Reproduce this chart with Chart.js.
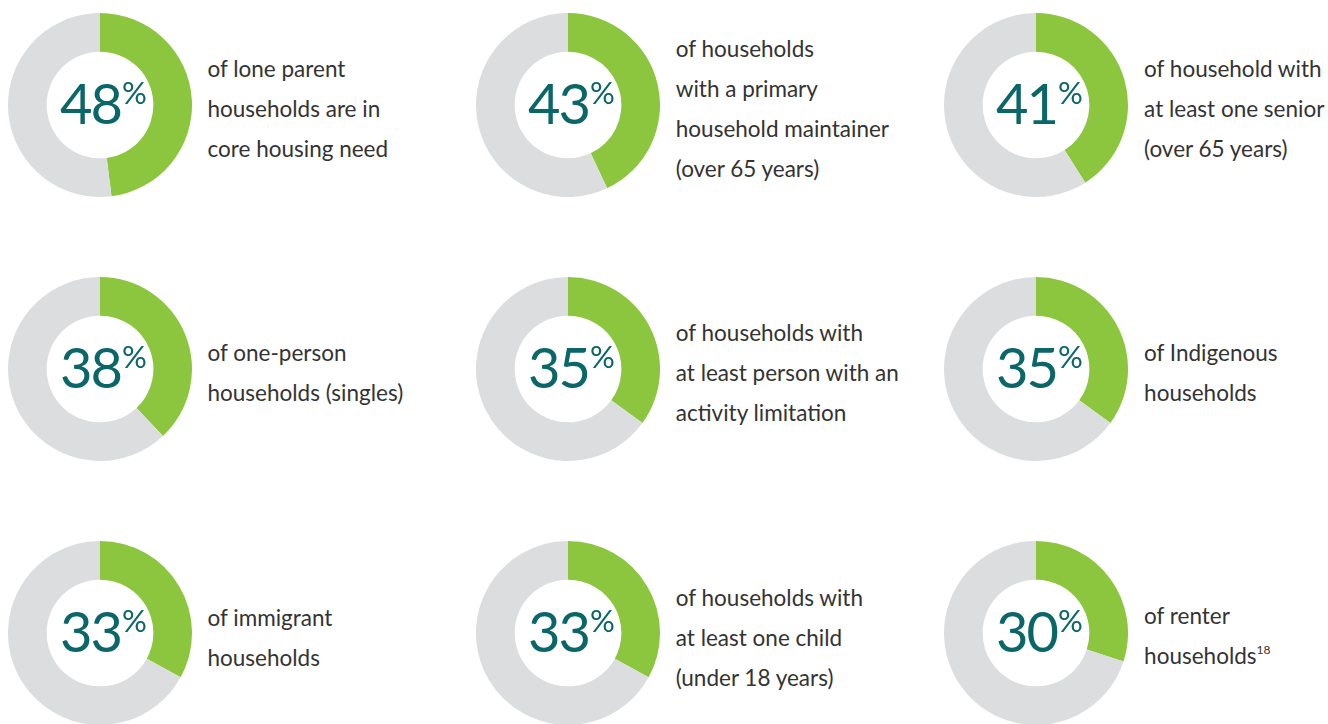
<!DOCTYPE html>
<html>
<head>
<meta charset="utf-8">
<script src="https://cdn.jsdelivr.net/npm/chart.js@4.4.1/dist/chart.umd.min.js"></script>
<style>
  html, body { margin: 0; padding: 0; background: #fff; }
  body { width: 1328px; height: 724px; position: relative; overflow: hidden; font-family: Lato, "Open Sans", sans-serif; }
  .cell { position: absolute; width: 460px; height: 184px; display: flex; align-items: center; }
  .cell canvas { flex: none; }
  .txt { margin-left: 16px; margin-top: 9px; font-size: 22.5px; line-height: 40px; color: #333; white-space: nowrap; }
  .txt sup { font-size: 12px; vertical-align: 0; position: relative; top: -10px; }
</style>
</head>
<body>
<script>
  const values = [48, 43, 41, 38, 35, 35, 33, 33, 30];
  const labelLines = [
    ["of lone parent", "households are in", "core housing need"],
    ["of households", "with a primary", "household maintainer", "(over 65 years)"],
    ["of household with", "at least one senior", "(over 65 years)"],
    ["of one-person", "households (singles)"],
    ["of households with", "at least person with an", "activity limitation"],
    ["of Indigenous", "households"],
    ["of immigrant", "households"],
    ["of households with", "at least one child", "(under 18 years)"],
    ["of renter", "households"]
  ];
  const footnotes = [null, null, null, null, null, null, null, null, "18"];

  const GREEN = "#8cc63f";
  const GREY = "#dcdddf";
  const TEAL = "#0a6669";

  // draws the big "NN%" in the hole of each ring
  const centerLabel = {
    id: "centerLabel",
    afterDraw(chart) {
      const arc = chart.getDatasetMeta(0).data[0];
      if (!arc) return;
      const { x, y } = arc;
      const ctx = chart.ctx;
      const num = String(chart.data.datasets[0].data[0]);
      const numFont = "400 56px Lato", pctFont = "400 31px Lato";
      ctx.save();
      ctx.fillStyle = TEAL;
      ctx.textBaseline = "alphabetic";
      ctx.textAlign = "left";
      ctx.font = numFont;
      ctx.letterSpacing = "-2px";
      const wNum = ctx.measureText(num).width;
      ctx.font = pctFont;
      ctx.letterSpacing = "0px";
      const wPct = ctx.measureText("%").width;
      const left = x - (wNum + wPct) / 2 + 3;
      ctx.font = numFont;
      ctx.letterSpacing = "-2px";
      ctx.fillText(num, left, y + 19);
      ctx.font = pctFont;
      ctx.letterSpacing = "0px";
      ctx.fillText("%", left + wNum + 1, y - 1);
      ctx.restore();
    }
  };

  values.forEach((v, i) => {
    const col = i % 3, row = Math.floor(i / 3);
    const cell = document.createElement("div");
    cell.className = "cell";
    cell.style.left = (7.5 + col * 468.3) + "px";
    cell.style.top = (12.5 + row * 264.3) + "px";
    const cv = document.createElement("canvas");
    cv.width = 184; cv.height = 184;
    cv.style.width = "184px"; cv.style.height = "184px";
    cell.appendChild(cv);
    const txt = document.createElement("div");
    txt.className = "txt";
    txt.innerHTML = labelLines[i].join("<br>") + (footnotes[i] ? "<sup>" + footnotes[i] + "</sup>" : "");
    cell.appendChild(txt);
    document.body.appendChild(cell);

    new Chart(cv.getContext("2d"), {
      type: "doughnut",
      data: { labels: ["share", "rest"], datasets: [{ data: [v, 100 - v], backgroundColor: [GREEN, GREY], borderWidth: 0 }] },
      options: {
        responsive: false, animation: false, cutout: "58%",
        plugins: { legend: { display: false }, tooltip: { enabled: false } }
      },
      plugins: [centerLabel]
    });
  });
</script>
</body>
</html>
